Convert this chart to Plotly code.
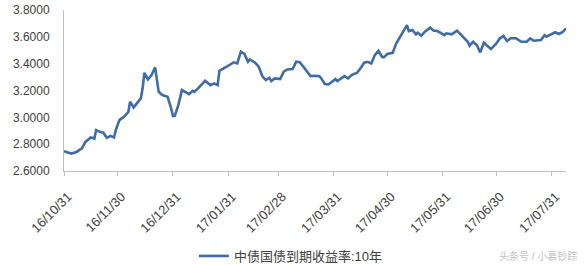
import plotly.graph_objects as go

dates = [
    "2016-10-31", "2016-11-04", "2016-11-07", "2016-11-10", "2016-11-12", "2016-11-15",
    "2016-11-17", "2016-11-18", "2016-11-20", "2016-11-22", "2016-11-24", "2016-11-26",
    "2016-11-28", "2016-11-29", "2016-12-01", "2016-12-04", "2016-12-06", "2016-12-07",
    "2016-12-09", "2016-12-11", "2016-12-13", "2016-12-14", "2016-12-15", "2016-12-17",
    "2016-12-19", "2016-12-21", "2016-12-23", "2016-12-25", "2016-12-28", "2016-12-30",
    "2016-12-31", "2017-01-01", "2017-01-03", "2017-01-05", "2017-01-09", "2017-01-11",
    "2017-01-12", "2017-01-14", "2017-01-18", "2017-01-21", "2017-01-23", "2017-01-25",
    "2017-01-26", "2017-01-30", "2017-02-03", "2017-02-05", "2017-02-07", "2017-02-09",
    "2017-02-11", "2017-02-12", "2017-02-15", "2017-02-17", "2017-02-19", "2017-02-21",
    "2017-02-23", "2017-02-24", "2017-02-26", "2017-03-01", "2017-03-03", "2017-03-05",
    "2017-03-08", "2017-03-10", "2017-03-12", "2017-03-14", "2017-03-16", "2017-03-18",
    "2017-03-20", "2017-03-23", "2017-03-24", "2017-03-26", "2017-03-28", "2017-03-30",
    "2017-04-01", "2017-04-02", "2017-04-04", "2017-04-06", "2017-04-08", "2017-04-10",
    "2017-04-13", "2017-04-15", "2017-04-17", "2017-04-19", "2017-04-21", "2017-04-23",
    "2017-04-25", "2017-04-27", "2017-04-28", "2017-04-30", "2017-05-03", "2017-05-05",
    "2017-05-07", "2017-05-09", "2017-05-11", "2017-05-12", "2017-05-14", "2017-05-16",
    "2017-05-17", "2017-05-19", "2017-05-21", "2017-05-24", "2017-05-26", "2017-05-28",
    "2017-05-30", "2017-06-01", "2017-06-02", "2017-06-05", "2017-06-08", "2017-06-11",
    "2017-06-14", "2017-06-15", "2017-06-17", "2017-06-19", "2017-06-21", "2017-06-23",
    "2017-06-25", "2017-06-27", "2017-06-30", "2017-07-02", "2017-07-04", "2017-07-06",
    "2017-07-08", "2017-07-11", "2017-07-14", "2017-07-17", "2017-07-19", "2017-07-21",
    "2017-07-25", "2017-07-27", "2017-07-28", "2017-07-30", "2017-08-02", "2017-08-04",
    "2017-08-06", "2017-08-08",
]

yields = [
    2.748, 2.730, 2.742, 2.768, 2.817, 2.850,
    2.842, 2.905, 2.892, 2.885, 2.847, 2.862,
    2.850, 2.905, 2.979, 3.009, 3.040, 3.116,
    3.074, 3.104, 3.141, 3.216, 3.332, 3.283,
    3.315, 3.372, 3.190, 3.166, 3.153, 3.066,
    3.009, 3.011, 3.091, 3.203, 3.173, 3.198,
    3.190, 3.216, 3.272, 3.240, 3.253, 3.240,
    3.347, 3.377, 3.410, 3.402, 3.489, 3.472,
    3.414, 3.432, 3.407, 3.377, 3.307, 3.278,
    3.295, 3.270, 3.290, 3.285, 3.340, 3.357,
    3.360, 3.414, 3.410, 3.377, 3.340, 3.307,
    3.310, 3.307, 3.290, 3.248, 3.245, 3.265,
    3.285, 3.270, 3.290, 3.307, 3.290, 3.315,
    3.332, 3.365, 3.407, 3.414, 3.402, 3.464,
    3.496, 3.451, 3.447, 3.472, 3.481, 3.551,
    3.596, 3.638, 3.688, 3.643, 3.651, 3.619,
    3.631, 3.608, 3.638, 3.668, 3.646, 3.643,
    3.626, 3.613, 3.626, 3.619, 3.646, 3.606,
    3.563, 3.534, 3.563, 3.539, 3.484, 3.556,
    3.531, 3.509, 3.551, 3.589, 3.606, 3.569,
    3.589, 3.589, 3.563, 3.563, 3.589, 3.571,
    3.576, 3.613, 3.601, 3.613, 3.634, 3.621,
    3.634, 3.663,
]

tick_dates = ["2016-10-31", "2016-11-30", "2016-12-31", "2017-01-31", "2017-02-28",
              "2017-03-31", "2017-04-30", "2017-05-31", "2017-06-30", "2017-07-31"]
tick_labels = ["16/10/31", "16/11/30", "16/12/31", "17/01/31", "17/02/28",
               "17/03/31", "17/04/30", "17/05/31", "17/06/30", "17/07/31"]
y_ticks = [2.6, 2.8, 3.0, 3.2, 3.4, 3.6, 3.8]

series_name = "中债国债到期收益率:10年"
watermark = "头条号 / 小慕钞踪"

font_main = "Liberation Sans, Noto Sans CJK SC, sans-serif"

fig = go.Figure()
fig.add_trace(go.Scatter(
    x=dates, y=yields, mode="lines", name=series_name,
    line=dict(color="#3e6ca6", width=2.6),
))

fig.update_layout(
    width=584, height=265,
    margin=dict(l=64, r=18, t=10, b=94, autoexpand=False),
    paper_bgcolor="white", plot_bgcolor="white",
    font=dict(family=font_main, color="#404040", size=12),
    showlegend=True,
    legend=dict(
        orientation="h", xref="container", yref="container",
        x=0.332, y=0.034, xanchor="left", yanchor="middle",
        font=dict(size=13, color="#404040"), itemwidth=30,
        bgcolor="rgba(0,0,0,0)",
    ),
    xaxis=dict(
        type="date",
        range=["2016-10-31", "2017-08-08"],
        tickvals=tick_dates, ticktext=tick_labels, tickangle=-45,
        showgrid=False, showline=True, linecolor="#bfbfbf", linewidth=1,
        ticks="outside", ticklen=4, tickcolor="#bfbfbf",
        tickfont=dict(size=13, color="#404040"),
        ticklabelstandoff=8, ticklabelshift=4,
        zeroline=False, automargin=False,
    ),
    yaxis=dict(
        range=[2.6, 3.8], tickvals=y_ticks, tickformat=".4f",
        showgrid=False, showline=True, linecolor="#bfbfbf", linewidth=1,
        ticks="", tickfont=dict(size=12, color="#404040"),
        ticklabelstandoff=11,
        zeroline=False, automargin=False,
    ),
    annotations=[dict(
        text=watermark, xref="paper", yref="paper", x=1.025, y=-0.53,
        xanchor="right", yanchor="middle", showarrow=False,
        font=dict(size=10, color="#c4c4c4", family=font_main),
    )],
)

fig.write_html("out.html")
